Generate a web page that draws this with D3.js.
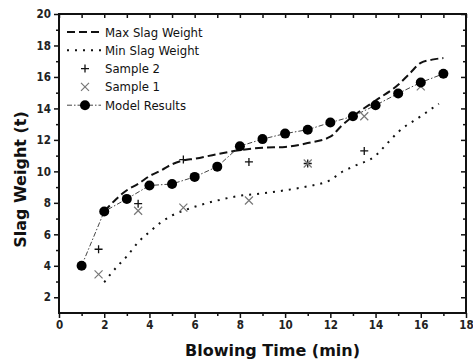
<!DOCTYPE html>
<html>
<head>
<meta charset="utf-8">
<script src="https://cdn.jsdelivr.net/npm/d3@7"></script>
<style>
  body { margin: 0; background: #fff; }
  .tick text { font-family: "DejaVu Sans Condensed", "DejaVu Sans", sans-serif; font-size: 11.5px; font-weight: bold; fill: #222; }
  .legend text { font-family: "DejaVu Sans Condensed", "DejaVu Sans", sans-serif; font-size: 13px; fill: #111; }
  .title { font-family: "DejaVu Sans", sans-serif; font-size: 16px; font-weight: bold; fill: #111; }
</style>
</head>
<body>
<div id="chart"></div>
<script>
// model results, one per minute
var modelTime = [1, 2, 3, 4, 5, 6, 7, 8, 9, 10, 11, 12, 13, 14, 15, 16, 17];
var modelWeight = [4.0, 7.45, 8.25, 9.1, 9.2, 9.65, 10.3, 11.6, 12.05, 12.4, 12.65, 13.1, 13.5, 14.2, 14.95, 15.65, 16.2];

// measured samples
var sample2Time = [1.75, 3.5, 5.5, 8.4, 11, 13.5];
var sample2Weight = [5.05, 7.95, 10.75, 10.6, 10.5, 11.3];
var sample1Time = [1.75, 3.5, 5.5, 8.4, 11, 13.5, 16];
var sample1Weight = [3.45, 7.5, 7.7, 8.15, 10.5, 13.5, 15.4];

// envelope curves
var maxTime = [2, 2.5, 3, 3.5, 4, 4.5, 5, 5.5, 6, 7, 8, 9, 10, 11, 12, 12.5, 13, 14, 15, 15.5, 16, 16.5, 17];
var maxWeight = [7.45, 8.2, 8.8, 9.2, 9.7, 10.05, 10.45, 10.7, 10.8, 11.1, 11.35, 11.5, 11.55, 11.8, 12.2, 12.9, 13.5, 14.5, 15.5, 16.2, 16.9, 17.1, 17.2];
var minTime = [2, 2.3, 2.6, 3, 3.5, 4, 4.5, 5, 5.5, 6, 7, 8, 9, 10, 11, 12, 12.5, 13, 14, 14.5, 15, 16, 16.8];
var minWeight = [2.95, 3.5, 4.0, 4.6, 5.5, 6.15, 6.75, 7.2, 7.5, 7.75, 8.15, 8.45, 8.6, 8.8, 9.05, 9.45, 9.95, 10.3, 11.0, 11.75, 12.5, 13.5, 14.3];

var xTicks = [0, 2, 4, 6, 8, 10, 12, 14, 16, 18];
var yTicks = [2, 4, 6, 8, 10, 12, 14, 16, 18, 20];
var legendLabels = ["Max Slag Weight", "Min Slag Weight", "Sample 2", "Sample 1", "Model Results"];

function zip(xs, ys) {
  return xs.map(function(x, i) { return {x: x, y: ys[i]}; });
}

var margin = {top: 14, right: 7, bottom: 49, left: 59},
    width = 473 - margin.left - margin.right,
    height = 362 - margin.top - margin.bottom;

var x = d3.scaleLinear().domain([0, 18]).range([0, width]);
var y = d3.scaleLinear().domain([1, 20]).range([height, 0]);

var svg = d3.select("#chart").append("svg")
    .attr("width", 473)
    .attr("height", 362)
  .append("g")
    .attr("transform", "translate(" + margin.left + "," + margin.top + ")");

var xMinor = d3.range(1, 18, 2);
var yMinor = d3.range(3, 20, 2);
var xAll = d3.range(0, 19);

function styleAxis(g) {
  g.select(".domain").remove();
  g.selectAll(".tick line").attr("stroke", "#111").attr("stroke-width", 1.5);
}

// bottom
svg.append("g")
    .attr("transform", "translate(0," + height + ")")
    .call(d3.axisBottom(x).tickValues(xTicks).tickSize(5).tickPadding(3).tickFormat(d3.format("d")))
    .call(styleAxis);
svg.append("g")
    .attr("transform", "translate(0," + height + ")")
    .call(d3.axisBottom(x).tickValues(xMinor).tickSize(3).tickFormat(""))
    .call(styleAxis);

// left
svg.append("g")
    .call(d3.axisLeft(y).tickValues(yTicks).tickSize(5).tickPadding(3).tickFormat(d3.format("d")))
    .call(styleAxis);
svg.append("g")
    .call(d3.axisLeft(y).tickValues(yMinor).tickSize(3).tickFormat(""))
    .call(styleAxis);

// top and right, ticks pointing inside
svg.append("g")
    .call(d3.axisTop(x).tickValues(xAll).tickSize(-4).tickFormat(""))
    .call(styleAxis);
svg.append("g")
    .attr("transform", "translate(" + width + ",0)")
    .call(d3.axisRight(y).tickValues(yTicks).tickSize(-5).tickFormat(""))
    .call(styleAxis);
svg.append("g")
    .attr("transform", "translate(" + width + ",0)")
    .call(d3.axisRight(y).tickValues(yMinor).tickSize(-3).tickFormat(""))
    .call(styleAxis);

// frame
svg.append("rect")
    .attr("width", width)
    .attr("height", height)
    .attr("fill", "none")
    .attr("stroke", "#111")
    .attr("stroke-width", 2);

var line = d3.line()
    .x(function(d) { return x(d.x); })
    .y(function(d) { return y(d.y); });
var smooth = d3.line()
    .curve(d3.curveMonotoneX)
    .x(function(d) { return x(d.x); })
    .y(function(d) { return y(d.y); });

svg.append("path")
    .datum(zip(maxTime, maxWeight))
    .attr("fill", "none")
    .attr("stroke", "#111")
    .attr("stroke-width", 2)
    .attr("stroke-dasharray", "8,4")
    .attr("d", smooth);

svg.append("path")
    .datum(zip(minTime, minWeight))
    .attr("fill", "none")
    .attr("stroke", "#111")
    .attr("stroke-width", 2)
    .attr("stroke-dasharray", "2,6")
    .attr("d", smooth);

svg.append("path")
    .datum(zip(modelTime, modelWeight))
    .attr("fill", "none")
    .attr("stroke", "#444")
    .attr("stroke-width", 1)
    .attr("stroke-dasharray", "5,2,1.5,2")
    .attr("d", line);

var plus = "M-4,0H4M0,-4V4";
var cross = "M-4,-4L4,4M-4,4L4,-4";

svg.selectAll(".s2")
    .data(zip(sample2Time, sample2Weight))
  .enter().append("path")
    .attr("class", "s2")
    .attr("transform", function(d) { return "translate(" + x(d.x) + "," + y(d.y) + ")"; })
    .attr("d", plus)
    .attr("stroke", "#111")
    .attr("stroke-width", 1.3);

svg.selectAll(".s1")
    .data(zip(sample1Time, sample1Weight))
  .enter().append("path")
    .attr("class", "s1")
    .attr("transform", function(d) { return "translate(" + x(d.x) + "," + y(d.y) + ")"; })
    .attr("d", cross)
    .attr("stroke", "#777")
    .attr("stroke-width", 1.2);

svg.selectAll(".model")
    .data(zip(modelTime, modelWeight))
  .enter().append("circle")
    .attr("class", "model")
    .attr("cx", function(d) { return x(d.x); })
    .attr("cy", function(d) { return y(d.y); })
    .attr("r", 5)
    .attr("fill", "#000");

// axis titles
svg.append("text")
    .attr("class", "title")
    .attr("x", width / 2 + 10)
    .attr("y", height + 43)
    .attr("text-anchor", "middle")
    .text("Blowing Time (min)");
svg.append("text")
    .attr("class", "title")
    .attr("transform", "translate(-33," + (height / 2 + 16) + ") rotate(-90)")
    .attr("text-anchor", "middle")
    .text("Slag Weight (t)");

// legend
var legend = svg.append("g").attr("class", "legend").attr("transform", "translate(8,18)");
var rowH = 18.3;
legendLabels.forEach(function(label, i) {
  var row = legend.append("g").attr("transform", "translate(0," + (i * rowH) + ")");
  if (i === 0) {
    row.append("line").attr("x1", 0).attr("x2", 34).attr("stroke", "#111").attr("stroke-width", 2).attr("stroke-dasharray", "8,4");
  } else if (i === 1) {
    row.append("line").attr("x1", 0).attr("x2", 34).attr("stroke", "#111").attr("stroke-width", 2).attr("stroke-dasharray", "2,6");
  } else if (i === 2) {
    row.append("path").attr("transform", "translate(18,0)").attr("d", plus).attr("stroke", "#111").attr("stroke-width", 1.3);
  } else if (i === 3) {
    row.append("path").attr("transform", "translate(18,0)").attr("d", cross).attr("stroke", "#777").attr("stroke-width", 1.2);
  } else {
    row.append("line").attr("x1", 0).attr("x2", 34).attr("stroke", "#444").attr("stroke-width", 1).attr("stroke-dasharray", "5,2,1.5,2");
    row.append("circle").attr("cx", 18).attr("r", 5).attr("fill", "#000");
  }
  row.append("text").attr("x", 38).attr("dy", "0.35em").text(label);
});
</script>
</body>
</html>
